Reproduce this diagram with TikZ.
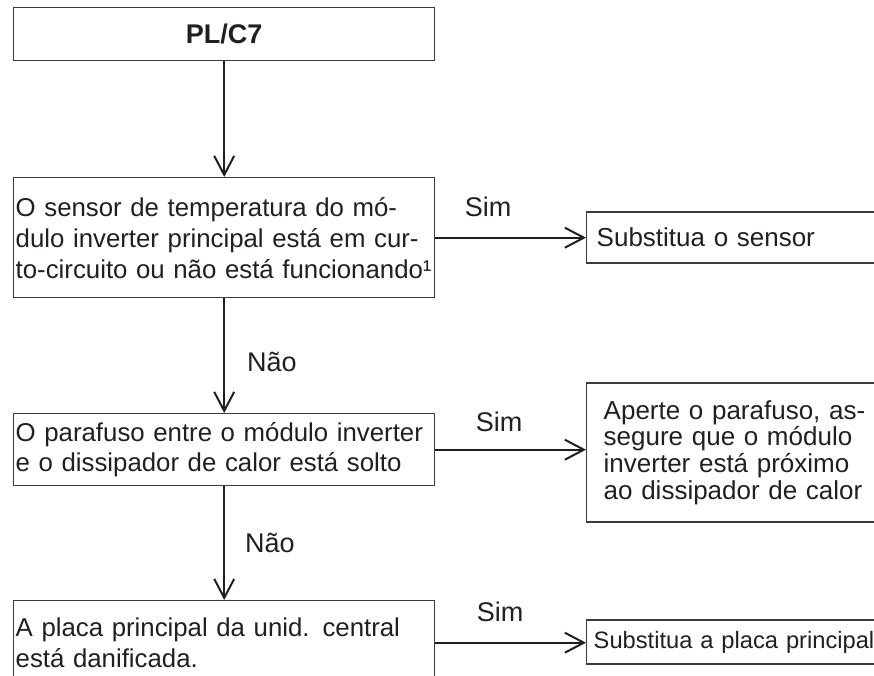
\documentclass[tikz,border=0pt]{standalone}
\usepackage{fontspec}
\setmainfont{Liberation Sans}
\usetikzlibrary{arrows.meta}
\definecolor{ink}{HTML}{231F20}
\definecolor{edge}{HTML}{3C3C3C}
\begin{document}
\begin{tikzpicture}[x=1pt,y=-1pt,
  lbox/.style={draw=edge, line width=1.4pt, minimum width=421pt, text width=417pt,
    inner xsep=2pt, inner ysep=0pt, align=left, anchor=north west, text=ink,
    font=\fontsize{25.8}{30.5}\selectfont},
  rbox/.style={draw=edge, line width=1.4pt, anchor=west, text width=300pt,
    inner ysep=0pt, align=left, text=ink, font=\fontsize{26}{26.7}\selectfont},
  arr/.style={draw=ink, line width=2pt, -{Straight Barb[length=19pt,width=20pt]}},
  lbl/.style={text=ink, inner sep=0pt, font=\fontsize{27}{30}\selectfont}]
\useasboundingbox (0,0) rectangle (874,676);
\clip (0,0) rectangle (874,676);
\fill[white] (0,0) rectangle (874,676);
% left column
\node[lbox, minimum height=53pt, align=center, font=\fontsize{27}{30}\bfseries] (top) at (13,7) {PL/C7};
\node[lbox, minimum height=120pt, font=\fontsize{25.8}{31}\selectfont] (q1) at (13,177)
  {\mbox{O sensor de temperatura do mó-}\\\mbox{dulo inverter principal está em cur-}\\\mbox{to-circuito ou não está funcionando¹}};
\node[lbox, minimum height=72pt] (q2) at (13,413)
  {\mbox{O parafuso entre o módulo inverter}\\\mbox{e o dissipador de calor está solto}};
\node[lbox, minimum height=84pt] (q3) at (13,600)
  {\mbox{A placa principal da unid. central}\\\mbox{está danificada.}};
% right column
\node[rbox, minimum height=51pt, inner xsep=10pt] (a1) at (586,237.5) {Substitua o sensor};
\node[rbox, minimum height=139pt, inner xsep=17pt] (a2) at (586,452.5)
  {Aperte o parafuso, as-\\segure que o módulo\\inverter está próximo\\ao dissipador de calor};
\node[rbox, minimum height=44pt, inner xsep=7pt, font=\fontsize{23.7}{26}\selectfont] (a3) at (586,642)
  {Substitua a placa principal};
% connectors
\draw[arr] (top.south) -- (q1.north);
\draw[arr] (q1.south) -- (q2.north);
\draw[arr] (q2.south) -- (q3.north);
\draw[arr] (q1.east) -- (q1.east -| a1.west);
\draw[arr] (q2.east) -- (q2.east -| a2.west);
\draw[arr] (q3.east) -- (q3.east -| a3.west);
% labels
\node[lbl] (s1) at (488,207) {Sim};
\node[lbl] (s2) at (499,422) {Sim};
\node[lbl] (s3) at (500,612) {Sim};
\node[lbl] (n1) at (272,362) {Não};
\node[lbl] (n2) at (270,543) {Não};
\end{tikzpicture}
\end{document}
